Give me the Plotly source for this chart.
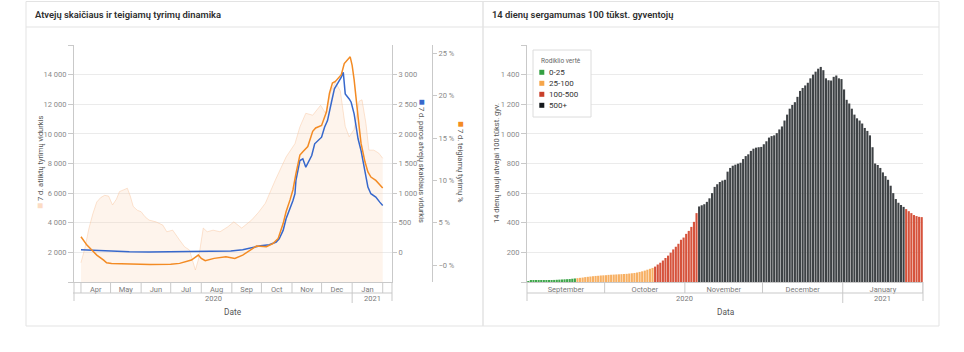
import plotly.graph_objects as go
import pandas as pd

W, H = 964, 352
def px(x): return x / W
def py(y): return 1 - y / H

FONT = "Roboto"
AXC = "#c9c9c9"
GRID = "#ebebeb"
TICKC = "#8a8a8a"

# ---------------- Left chart data ----------------
tests_dates = ["2020-04-01", "2020-04-05", "2020-04-09", "2020-04-13", "2020-04-17", "2020-04-21",
               "2020-04-25", "2020-04-29", "2020-05-03", "2020-05-07", "2020-05-10", "2020-05-14",
               "2020-05-18", "2020-05-21", "2020-05-24", "2020-05-28", "2020-06-01", "2020-06-05",
               "2020-06-09", "2020-06-16", "2020-06-23", "2020-06-27", "2020-07-03", "2020-07-10",
               "2020-07-15", "2020-07-20", "2020-07-26", "2020-07-29", "2020-08-03", "2020-08-07",
               "2020-08-13", "2020-08-20", "2020-08-28", "2020-09-03", "2020-09-11", "2020-09-21",
               "2020-09-28", "2020-10-05", "2020-10-15", "2020-10-26", "2020-11-04", "2020-11-09",
               "2020-11-15", "2020-11-22", "2020-11-30", "2020-12-05", "2020-12-10", "2020-12-15",
               "2020-12-20", "2020-12-25", "2020-12-29", "2021-01-03", "2021-01-08", "2021-01-11",
               "2021-01-15", "2021-01-18", "2021-01-23", "2021-01-28", "2021-02-01"]
tests_vals = [1300, 2300, 3600, 4600, 5400, 5700,
              5850, 5800, 5200, 5600, 6100, 6200,
              6330, 5800, 5100, 4850, 4740, 4400,
              4180, 4060, 3840, 3390, 3500, 2830,
              2380, 2160, 810, 1500, 3640, 3390,
              3500, 3390, 3730, 4060, 3640, 4180,
              4700, 5320, 6870, 8440, 9340, 10470,
              11390, 11260, 11930, 11390, 12800, 13500,
              12900, 10500, 9800, 10300, 12200, 12300,
              10700, 8900, 8900, 8700, 8350]

cases_dates = ["2020-04-01", "2020-04-15", "2020-04-30", "2020-05-20", "2020-06-09", "2020-06-30",
               "2020-07-20", "2020-08-10", "2020-08-31", "2020-09-12", "2020-09-22", "2020-09-30",
               "2020-10-09", "2020-10-16", "2020-10-19", "2020-10-23", "2020-10-26", "2020-10-30",
               "2020-11-02", "2020-11-04", "2020-11-05", "2020-11-09", "2020-11-12", "2020-11-15",
               "2020-11-21", "2020-11-24", "2020-11-27", "2020-12-01", "2020-12-04", "2020-12-07",
               "2020-12-11", "2020-12-14", "2020-12-17", "2020-12-21", "2020-12-23", "2020-12-25",
               "2020-12-29", "2020-12-31", "2021-01-03", "2021-01-07", "2021-01-10", "2021-01-14",
               "2021-01-17", "2021-01-20", "2021-01-25", "2021-01-29", "2021-02-01"]
cases_vals = [45, 35, 22, 12, 8, 10,
              16, 24, 25, 45, 90, 113,
              130, 174, 230, 371, 568, 737,
              877, 990, 1214, 1550, 1580, 1438,
              1635, 1833, 1888, 1944, 2113, 2225,
              2534, 2760, 2844, 2956, 3040, 2675,
              2590, 2534, 2338, 1917, 1720, 1327,
              1101, 990, 932, 848, 792]

pos_dates = ["2020-04-01", "2020-04-07", "2020-04-12", "2020-04-17", "2020-04-24", "2020-04-27",
             "2020-05-02", "2020-05-20", "2020-06-10", "2020-07-01", "2020-07-10", "2020-07-22",
             "2020-07-29", "2020-08-01", "2020-08-05", "2020-08-14", "2020-08-26", "2020-09-04",
             "2020-09-12", "2020-09-26", "2020-10-06", "2020-10-13", "2020-10-18", "2020-10-23",
             "2020-10-26", "2020-10-30", "2020-11-02", "2020-11-05", "2020-11-09", "2020-11-12",
             "2020-11-17", "2020-11-22", "2020-11-25", "2020-12-01", "2020-12-06", "2020-12-09",
             "2020-12-12", "2020-12-15", "2020-12-21", "2020-12-24", "2020-12-27", "2020-12-30",
             "2021-01-01", "2021-01-03", "2021-01-07", "2021-01-10", "2021-01-14", "2021-01-17",
             "2021-01-20", "2021-01-25", "2021-01-29", "2021-02-01"]
pos_vals = [3.35, 2.36, 1.77, 1.18, 0.59, 0.27,
            0.2, 0.12, 0.08, 0.1, 0.2, 0.6,
            1.18, 0.79, 0.51, 0.79, 0.98, 0.79,
            1.18, 2.25, 2.17, 2.56, 3.15, 4.9,
            6.3, 7.7, 8.9, 10.8, 13.0, 13.4,
            14.0, 15.8, 16.2, 16.5, 18.1, 20.3,
            21.5, 21.7, 22.5, 23.8, 24.2, 24.6,
            23.6, 21.9, 17.5, 14.4, 12.2, 11.0,
            10.4, 10.0, 9.5, 9.1]

# ---------------- Right chart data ----------------
incid_start = "2020-09-01"
incid_vals = [6, 7, 8, 8, 9, 10, 11, 12, 13, 13, 14, 15, 16, 17, 18, 19, 20, 22, 24,
              26, 28, 30, 33, 35, 37, 39, 41, 42, 44, 45, 46, 48, 49, 50, 51, 52, 53, 54, 55,
              57, 59, 61, 64, 68, 72, 77, 83, 89, 95,
              104, 118, 130, 145, 162, 178, 198, 220, 238, 258, 285, 300, 325, 345, 372, 406, 465,
              510, 518, 525, 541, 565, 600, 642, 660, 675, 685,
              690, 745, 770, 785, 792, 799, 805, 830, 850, 862,
              885, 900, 907, 910, 912, 930, 950, 975, 985, 990,
              1005, 1030, 1050, 1090, 1130, 1170, 1195, 1214, 1250, 1290,
              1310, 1327, 1345, 1375, 1400, 1420, 1440, 1452, 1430, 1375,
              1362, 1360, 1385, 1394, 1375, 1370, 1300, 1230, 1205, 1170,
              1130, 1105, 1090, 1070, 1040, 1020, 990, 910, 800, 790,
              770, 740, 715, 690, 650, 600, 560, 535, 520, 507,
              492, 478, 465, 452, 445, 440, 438]
band_names = ["0-25", "25-100", "100-500", "500+"]
band_upper = [25, 100, 500, float("inf")]
band_key_colors = ["#34a043", "#f6a64a", "#c9402b", "#15191c"]
band_bar_colors = ["#3fa64b", "#f7b063", "#d6533c", "#3e4245"]

incid_dates = pd.date_range(incid_start, periods=len(incid_vals), freq="D")

def band_of(v):
    for i, u in enumerate(band_upper):
        if v < u:
            return i
    return len(band_upper) - 1

bar_colors = [band_bar_colors[band_of(v)] for v in incid_vals]

L_RANGE = [pd.Timestamp("2020-03-24 22:00"), pd.Timestamp("2021-02-10 10:00")]
R_RANGE = [pd.Timestamp("2020-09-01"), pd.Timestamp("2021-02-01")]

fig = go.Figure()

# tests area
fig.add_trace(go.Scatter(x=tests_dates, y=tests_vals, mode="lines", fill="tozeroy",
                         line=dict(color="rgba(249,196,155,0.45)", width=1),
                         fillcolor="rgba(252,214,185,0.28)", xaxis="x", yaxis="y",
                         name="7 d. atliktų tyrimų vidurkis", showlegend=False))
fig.add_trace(go.Scatter(x=cases_dates, y=cases_vals, mode="lines",
                         line=dict(color="#3768cc", width=1.5), xaxis="x", yaxis="y2",
                         name="7 d. paros atvejų skaičiaus vidurkis", showlegend=False))
fig.add_trace(go.Scatter(x=pos_dates, y=pos_vals, mode="lines",
                         line=dict(color="#f38b24", width=1.5), xaxis="x", yaxis="y3",
                         name="7 d. teigiamų tyrimų %", showlegend=False))

fig.add_trace(go.Bar(x=incid_dates, y=incid_vals, marker=dict(color=bar_colors, line=dict(width=0)),
                     xperiod=86400000, xperiodalignment="middle",
                     xaxis="x2", yaxis="y4", showlegend=False,
                     name="14 dienų nauji atvejai 100 tūkst. gyv."))

tickfont = dict(family=FONT, size=7.5, color=TICKC)

left_ticks = list(range(0, 16001, 2000))
left_text = ["" if v in (0, 16000) else f"{v:,}".replace(",", " ") for v in left_ticks]
case_ticks = list(range(0, 3001, 500))
case_text = [f"{v:,}".replace(",", " ") for v in case_ticks]
pct_ticks = [0, 5, 10, 15, 20, 25]
pct_text = ["−0 %"] + [f"{v} %" for v in pct_ticks[1:]]
r_ticks = list(range(0, 1601, 200))
r_text = ["" if v in (0, 1600) else f"{v:,}".replace(",", " ") for v in r_ticks]

fig.update_layout(
    width=W, height=H, margin=dict(l=0, r=0, t=0, b=0),
    paper_bgcolor="white", plot_bgcolor="white",
    font=dict(family=FONT, color="#555"),
    bargap=0.18,
    xaxis=dict(domain=[px(74), px(392)], anchor="y", range=L_RANGE, type="date",
               tickformat="%b", dtick="M1", tick0="2020-01-01", ticklabelmode="period",
               ticks="", showgrid=False, showline=True, linecolor=AXC, linewidth=1,
               tickfont=dict(family=FONT, size=7.5, color="#7a7a7a"), automargin=False, zeroline=False),
    yaxis=dict(domain=[py(282), py(45)], anchor="x", range=[0, 16000],
               tickvals=left_ticks, ticktext=left_text, ticks="outside", ticklen=5, tickcolor=AXC,
               showline=True, linecolor=AXC, gridcolor=GRID, zeroline=False,
               tickfont=tickfont, automargin=False),
    yaxis2=dict(overlaying="y", side="right", anchor="x", range=[-500, 3500],
                tickvals=case_ticks, ticktext=case_text, ticks="outside", ticklen=4, tickcolor=AXC,
                showline=True, linecolor=AXC, showgrid=False, zeroline=False,
                tickfont=tickfont, automargin=False),
    yaxis3=dict(overlaying="y", side="right", anchor="free", position=px(432), range=[-2, 26],
                tickvals=pct_ticks, ticktext=pct_text, ticks="outside", ticklen=4, tickcolor=AXC,
                showline=True, linecolor=AXC, showgrid=False, zeroline=False,
                tickfont=tickfont, automargin=False),
    xaxis2=dict(domain=[px(527), px(923)], anchor="y4", range=R_RANGE, type="date",
                tickformat="%B", dtick="M1", tick0="2020-01-01", ticklabelmode="period",
                ticks="", showgrid=False, showline=True, linecolor=AXC,
                tickfont=dict(family=FONT, size=7.5, color="#7a7a7a"), automargin=False, zeroline=False),
    yaxis4=dict(domain=[py(282), py(45)], anchor="x2", range=[0, 1600],
                tickvals=r_ticks, ticktext=r_text, ticks="outside", ticklen=5, tickcolor=AXC,
                showline=True, linecolor=AXC, gridcolor=GRID, zeroline=False,
                tickfont=tickfont, automargin=False),
)

shapes = []
def seg(x0, y0, x1, y1, xref="paper", color=AXC, width=1):
    return dict(type="line", xref=xref, yref="paper",
                x0=x0, x1=x1, y0=py(y0), y1=py(y1), line=dict(color=color, width=width), layer="above")

# panel frames
PB = "#e3e3e3"
for (a, b) in [(26, 483), (483, 939)]:
    shapes.append(dict(type="rect", xref="paper", yref="paper", x0=px(a), x1=px(b), y0=py(326), y1=py(1.5),
                       line=dict(color=PB, width=1), fillcolor="rgba(0,0,0,0)", layer="below"))
    shapes.append(seg(px(a), 27, px(b), 27, color=PB))

# hierarchical date axis decorations (left)
for m in pd.date_range("2020-04-01", "2021-02-01", freq="MS"):
    shapes.append(seg(m, 282, m, 293, xref="x"))
shapes.append(seg(px(73), 293, px(392), 293))
shapes.append(seg(px(74), 282, px(74), 301))
shapes.append(seg(px(392), 282, px(392), 301))
shapes.append(seg(pd.Timestamp("2021-01-01"), 293, pd.Timestamp("2021-01-01"), 303, xref="x"))

# right
for m in pd.date_range("2020-10-01", "2021-02-01", freq="MS"):
    shapes.append(seg(m, 282, m, 293, xref="x2"))
shapes.append(seg(px(527), 293, px(923), 293))
shapes.append(seg(px(527), 282, px(527), 301))
shapes.append(seg(px(923), 282, px(923), 301))
shapes.append(seg(pd.Timestamp("2021-01-01"), 293, pd.Timestamp("2021-01-01"), 303, xref="x2"))

# legend box
shapes.append(dict(type="rect", xref="paper", yref="paper", x0=px(533), x1=px(591), y0=py(117), y1=py(50),
                   line=dict(color="#dcdcdc", width=1), fillcolor="white", layer="above"))
for i, c in enumerate(band_key_colors):
    yc = 72.3 + i * 11
    shapes.append(dict(type="rect", xref="paper", yref="paper", x0=px(539.3), x1=px(544.3),
                       y0=py(yc + 2.5), y1=py(yc - 2.5), line=dict(width=0), fillcolor=c, layer="above"))

ann = []
def note(text, x, y, size=8, color="#555", xref="paper", angle=0, xanchor="center", weight=None):
    f = dict(family=FONT, size=size, color=color)
    if weight:
        f["weight"] = weight
    ann.append(dict(text=text, x=x, y=py(y), xref=xref, yref="paper", showarrow=False,
                    textangle=angle, xanchor=xanchor, yanchor="middle", font=f))

# titles
note("Atvejų skaičiaus ir teigiamų tyrimų dinamika", px(33), 14.5, size=9.4, color="#2e2e2e",
     xanchor="left", weight=600)
note("14 dienų sergamumas 100 tūkst. gyventojų", px(490), 14.5, size=9.4, color="#2e2e2e",
     xanchor="left", weight=600)

# axis titles (coloured series key + text)
def keyed(color, text):
    return f"<span style='color:{color};font-size:10px'>■</span> {text}"

note(keyed("#fcdcc4", "7 d. atliktų tyrimų vidurkis"), px(39), 163, size=7.5, color="#555", angle=-90)
note(keyed("#3768cc", "7 d. paros atvejų skaičiaus vidurkis"), px(423), 161, size=7.5, color="#555", angle=90)
note(keyed("#f38b24", "7 d. teigiamų tyrimų %"), px(462), 162, size=7.5, color="#555", angle=90)
note("14 dienų nauji atvejai 100 tūkst. gyv.", px(496), 163, size=7.5, color="#555", angle=-90)
note("Date", px(233), 311.5, size=8.3, color="#555")
note("Data", px(726), 311.5, size=8.3, color="#555")

# year labels centred on the visible part of each year
jan1 = pd.Timestamp("2021-01-01")
note("2020", L_RANGE[0] + (jan1 - L_RANGE[0]) / 2, 298, size=7.5, color="#7a7a7a", xref="x")
note("2021", jan1 + (L_RANGE[1] - jan1) / 2, 298, size=7.5, color="#7a7a7a", xref="x")
note("2020", R_RANGE[0] + (jan1 - R_RANGE[0]) / 2, 298, size=7.5, color="#7a7a7a", xref="x2")
note("2021", jan1 + (R_RANGE[1] - jan1) / 2, 298, size=7.5, color="#7a7a7a", xref="x2")

# legend texts
note("Rodiklio vertė", px(539), 61.5, size=6.5, color="#666", xanchor="left")
for i, name in enumerate(band_names):
    note(name, px(547), 72.3 + i * 11, size=8, color="#333", xanchor="left")

fig.update_layout(shapes=shapes, annotations=ann)
fig.write_html("out.html")
